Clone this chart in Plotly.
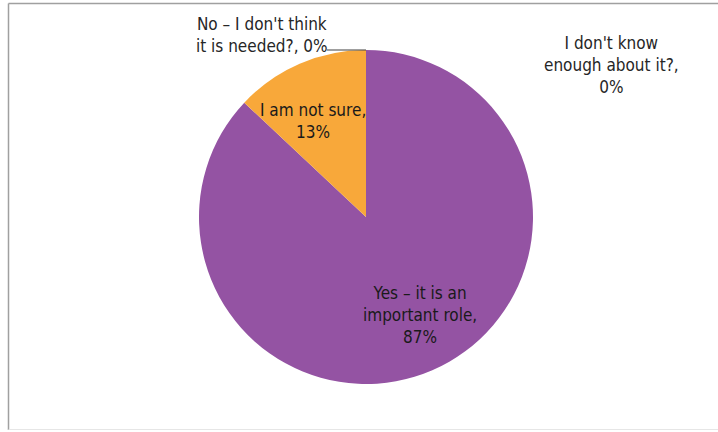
import plotly.graph_objects as go

# Survey responses
labels = [
    "Yes – it is an important role",
    "I am not sure",
    "No – I don't think it is needed?",
    "I don't know enough about it?",
]
values = [87, 13, 0, 0]
colors = ["#9453A3", "#F8A83A", "#7F7F7F", "#BFBFBF"]

# Label text broken over lines, one entry per slice
label_lines = [
    ["Yes – it is an", "important role,"],
    ["I am not sure,"],
    ["No – I don't think", "it is needed?,"],
    ["I don't know", "enough about it?,"],
]
# whether the percentage continues the last line or goes on its own line
pct_inline = [False, False, True, False]
# Label centres in pixels (x from left, y from top)
label_pos = [(420, 315), (313, 121), (262, 35), (611, 65)]
label_colors = ["#1A1A1A", "#1A1A1A", "#262626", "#262626"]

W, H = 718, 432
cx, cy, r = 366, 217, 167  # pie centre and radius in pixels

fig = go.Figure(
    go.Pie(
        labels=labels,
        values=values,
        sort=False,
        direction="clockwise",
        rotation=0,
        marker=dict(colors=colors, line=dict(width=0)),
        textinfo="none",
        hoverinfo="label+percent",
        showlegend=False,
        domain=dict(x=[(cx - r) / W, (cx + r) / W],
                    y=[1 - (cy + r) / H, 1 - (cy - r) / H]),
    )
)

font_family = "Liberation Sans Narrow, Arial Narrow, DejaVu Sans Condensed, sans-serif"
total = sum(values)
for lines, val, inline, (px, py), col in zip(label_lines, values, pct_inline,
                                              label_pos, label_colors):
    pct = f"{round(100 * val / total)}%"
    if inline:
        txt = "<br>".join(lines[:-1] + [lines[-1] + " " + pct])
    else:
        txt = "<br>".join(lines + [pct])
    fig.add_annotation(
        x=px / W, y=1 - py / H, xref="paper", yref="paper",
        text=txt, showarrow=False, align="center",
        xanchor="center", yanchor="middle",
        font=dict(family=font_family, size=17, color=col),
    )

# Leader line from the zero-value label to the top of the pie
fig.add_shape(
    type="line", xref="paper", yref="paper",
    x0=327 / W, x1=cx / W, y0=1 - (cy - r) / H, y1=1 - (cy - r) / H,
    line=dict(color="#404040", width=1.2),
)

# Chart area border: left and top edges, faint bottom edge
border = "#A0A0A0"
fig.add_shape(type="line", xref="paper", yref="paper",
              x0=8.5 / W, x1=8.5 / W, y0=1 - 430 / H, y1=1 - 3.5 / H,
              line=dict(color=border, width=1.5))
fig.add_shape(type="line", xref="paper", yref="paper",
              x0=8.5 / W, x1=1.0, y0=1 - 3.5 / H, y1=1 - 3.5 / H,
              line=dict(color=border, width=1.5))
fig.add_shape(type="line", xref="paper", yref="paper",
              x0=8.5 / W, x1=1.0, y0=1 - 429.5 / H, y1=1 - 429.5 / H,
              line=dict(color="#E6E6E6", width=1))

fig.update_layout(
    width=W, height=H,
    margin=dict(l=0, r=0, t=0, b=0),
    paper_bgcolor="white",
    plot_bgcolor="white",
)

fig.write_html("out.html")
